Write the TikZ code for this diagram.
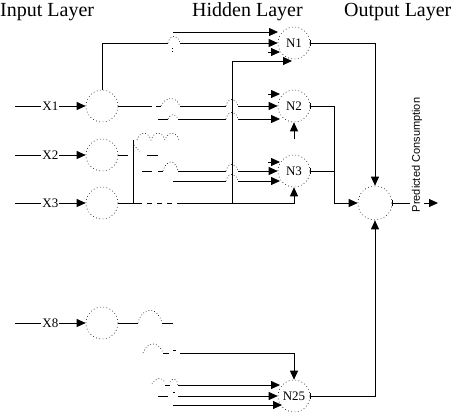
\documentclass[tikz,border=0pt]{standalone}
\usepackage{fontspec}
\setmainfont{Liberation Serif}
\newfontfamily\sansf{Liberation Sans}
\usetikzlibrary{arrows.meta}
\begin{document}
\begin{tikzpicture}[x=1pt,y=-1pt,
 neuron/.style={circle,draw,dash pattern=on 0.7pt off 2.6pt,line width=0.6pt,minimum size=32pt,inner sep=0pt,font=\fontsize{13}{13}\selectfont},
 conn/.style={line width=0.8pt},
 arr/.style={conn,-{Triangle[length=9pt,width=8pt]}},
 barr/.style={conn,{Bar[width=6pt]}-{Triangle[length=9pt,width=8pt]}},
 bconn/.style={conn,{Bar[width=6pt]}-},
 hop/.style={line width=0.6pt,dash pattern=on 0.7pt off 2.2pt},
 dash5/.style={conn,dash pattern=on 5pt off 5pt},
 title/.style={font=\fontsize{20}{20}\selectfont,anchor=base west,inner sep=0pt},
 xlab/.style={fill=white,inner sep=1pt,font=\fontsize{13}{13}\selectfont}]
\useasboundingbox (0,0) rectangle (455,413);

% titles
\node[title] (tin) at (0,16) {Input Layer};
\node[title] (thid) at (192,16) {Hidden Layer};
\node[title] (tout) at (344,16) {Output Layer};

% input neurons
\node[neuron] (I1) at (102,106) {};
\node[neuron] (I2) at (102,155) {};
\node[neuron] (I3) at (102,203) {};
\node[neuron] (I8) at (102,323) {};

% hidden neurons
\node[neuron] (N1) at (294,43) {N1};
\node[neuron] (N2) at (294,106) {N2};
\node[neuron] (N3) at (294,171) {N3};
\node[neuron] (N25) at (294,396) {N25};

% output neuron
\node[neuron,minimum size=34pt] (O) at (375,203) {};

% inputs
\coordinate (x1s) at (15,106);
\coordinate (x2s) at (15,155);
\coordinate (x3s) at (15,203);
\coordinate (x8s) at (15,323);
\draw[arr] (x1s) -- node[xlab] (lx1) {X1} (I1);
\draw[arr] (x2s) -- node[xlab] (lx2) {X2} (I2);
\draw[arr] (x3s) -- node[xlab] (lx3) {X3} (I3);
\draw[arr] (x8s) -- node[xlab] (lx8) {X8} (I8);

% ---- to N1
\coordinate (a1) at (168,43); \coordinate (a2) at (180,43);
\draw[conn] (I1.north) |- (a1);
\draw[hop] (a1) .. controls (170,34) and (178,34) .. (a2);
\draw[hop] (172,48) -- (172,53);
\draw[arr] (a2) -- (N1.west);
\coordinate (t1s) at (173,32); \coordinate (t1e) at (278,32);
\draw[arr] (t1s) -- (t1e);
\coordinate (t3s) at (268,52); \coordinate (t3e) at (280,52);
\draw[arr] (t3s) -- (t3e);
\coordinate (v1) at (232,203); \coordinate (v1e) at (292,61);
\draw[arr] (v1) |- (v1e);

% ---- to N2
\coordinate (u1s) at (268,94); \coordinate (u1e) at (280,94);
\draw[arr] (u1s) -- (u1e);
\coordinate (b1) at (152,106); \coordinate (b2) at (180,106);
\coordinate (b3) at (226,106); \coordinate (b4) at (238,106);
\draw[conn] (I1.east) -- (b1);
\draw[conn] (156,106) -- (161,106);
\draw[hop] (161,106) .. controls (166,96) and (176,96) .. (b2);
\draw[conn] (b2) -- (b3);
\draw[hop] (b3) .. controls (228,97) and (236,97) .. (b4);
\draw[arr] (b4) -- (N2.west);
\coordinate (c1) at (158,119); \coordinate (c2) at (168,119);
\coordinate (c3) at (178,119); \coordinate (c4) at (226,119);
\coordinate (c5) at (238,119); \coordinate (c6) at (280,119);
\draw[conn] (c1) -- (c2);
\draw[hop] (c2) .. controls (171,113) and (175,113) .. (c3);
\draw[conn] (c3) -- (c4);
\draw[hop] (c4) .. controls (228,110) and (236,110) .. (c5);
\draw[arr] (c5) -- (c6);
\coordinate (d1) at (294,139);
\draw[arr] (d1) -- (N2.south);

% ---- X2 / vertical bus
\coordinate (e1) at (128,155);
\draw[conn] (I2.east) -- (e1);
\coordinate (e2) at (133,140); \coordinate (e3) at (133,203);
\draw[conn] (e2) -- (e3);
\draw[hop] (137,140) .. controls (140,131) and (148,131) .. (151,140)
           .. controls (154,131) and (162,131) .. (165,140)
           .. controls (168,131) and (176,131) .. (179,140);
\draw[conn] (147,155) -- (158,155);
\draw[hop] (134,145) -- (140,152);

% ---- to N3
\coordinate (w1s) at (268,162); \coordinate (w1e) at (280,162);
\draw[arr] (w1s) -- (w1e);
\coordinate (f1) at (142,171); \coordinate (f2) at (152,171);
\coordinate (f3) at (178,171); \coordinate (f4) at (226,171);
\coordinate (f5) at (238,171);
\draw[conn] (f1) -- (f2);
\draw[conn] (158,171) -- (163,171);
\draw[hop] (163,171) .. controls (166,160) and (175,158) .. (f3);
\draw[conn] (f3) -- (f4);
\draw[hop] (f4) .. controls (228,162) and (236,162) .. (f5);
\draw[arr] (f5) -- (N3.west);
\coordinate (g1) at (173,181); \coordinate (g2) at (226,181);
\coordinate (g3) at (238,181); \coordinate (g4) at (280,181);
\draw[conn] (g1) -- (g2);
\draw[hop] (g2) .. controls (228,172) and (236,172) .. (g3);
\draw[arr] (g3) -- (g4);
\coordinate (h1) at (137,203); \coordinate (h2) at (180,203);
\draw[conn] (I3.east) -- (h1);
\draw[dash5] (h1) -- (h2);
\draw[arr] (h2) -| (N3.south);

% ---- X8 and N25
\coordinate (k1) at (138,323); \coordinate (k2) at (162,323);
\coordinate (k3) at (173,323);
\draw[conn] (I8.east) -- (k1);
\draw[hop] (k1) .. controls (142,306) and (158,306) .. (k2);
\draw[conn] (k2) -- (k3);
\coordinate (m1) at (143,353); \coordinate (m2) at (163,353);
\coordinate (m3) at (169,353); \coordinate (m4) at (180,353);
\draw[hop] (m1) .. controls (147,341) and (159,341) .. (m2);
\draw[conn] (m2) -- (m3);
\draw[conn] (173,350) -- (176,350);
\draw[arr] (m4) -| (N25.north);
\coordinate (n1) at (152,384); \coordinate (n2) at (178,385);
\coordinate (n3) at (280,385);
\draw[hop] (n1) .. controls (156,377) and (162,377) .. (165,382);
\draw[conn] (165,385) -- (170,385);
\draw[hop] (170,382) .. controls (173,377) and (177,379) .. (n2);
\draw[arr] (n2) -- (n3);
\coordinate (o1) at (158,396); \coordinate (o2) at (168,396);
\coordinate (o3) at (178,396);
\draw[conn] (o1) -- (o2);
\draw[conn] (173,392) -- (175,392);
\draw[arr] (o3) -- (N25.west);
\coordinate (q1) at (173,405); \coordinate (q2) at (282,405);
\draw[arr] (q1) -- (q2);

% ---- hidden to output
\coordinate (j) at (334,203);
\draw[barr] (N1.east) -| (O.north);
\draw[bconn] (N2.east) -| (j);
\draw[bconn] (N3.east) -| (j);
\draw[arr] (j) -- (O.west);
\draw[barr] (N25.east) -| (O.south);

% output
\coordinate (oe) at (438,203);
\draw[barr] (O.east) -- (oe);
\node[fill=white,inner sep=2pt,rotate=90,font=\sansf\fontsize{11}{11}\selectfont] (pc) at (417,155) {Predicted Consumption};
\end{tikzpicture}
\end{document}
